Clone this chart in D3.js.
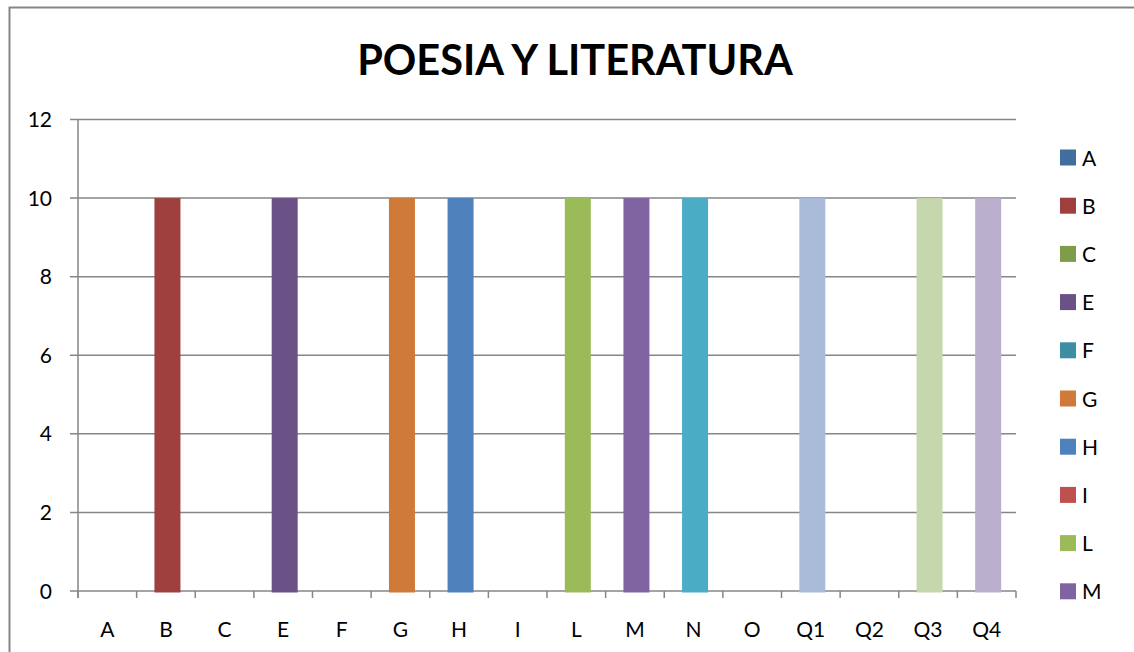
<!DOCTYPE html>
<html>
<head>
<meta charset="utf-8">
<script src="https://cdn.jsdelivr.net/npm/d3@7"></script>
<style>
  body { margin: 0; background: #fff; }
  svg text { font-family: Lato, "Open Sans", sans-serif; fill: #000; }
</style>
</head>
<body>
<svg id="chart" width="1134" height="652"></svg>
<script>
// data
var categories = ["A", "B", "C", "E", "F", "G", "H", "I", "L", "M", "N", "O", "Q1", "Q2", "Q3", "Q4"];
var values = [0, 10, 0, 10, 0, 10, 10, 0, 10, 10, 10, 0, 10, 0, 10, 10];
var colors = ["#416DA1", "#9E413E", "#809B4A", "#6A5186", "#3D8DA5", "#CF7A38",
              "#4F81BD", "#C0504D", "#9BBB59", "#8064A2", "#4BACC6", "#F79646",
              "#A9BBD9", "#DBA9A8", "#C7D7AD", "#BAAFCC"];
var yTicks = [0, 2, 4, 6, 8, 10, 12];
var legendCount = 10; // only the first ten names fit in the legend
var title = "POESIA Y LITERATURA";

drawChart();

function drawChart() {
  var svg = d3.select("#chart");
  var gridColor = "#868686";

  // outer chart border (right and bottom edges fall outside the picture)
  svg.append("path")
    .attr("d", "M9.5,652 L9.5,7.5 L1134,7.5")
    .attr("fill", "none").attr("stroke", gridColor).attr("stroke-width", 2);

  var plotLeft = 78, plotRight = 1016, plotTop = 119.5, plotBottom = 591;

  var x = d3.scaleBand().domain(categories).range([plotLeft, plotRight]);
  var y = d3.scaleLinear().domain([0, 12]).range([plotBottom, plotTop]);

  // title
  svg.append("text")
    .attr("x", 575).attr("y", 75)
    .attr("text-anchor", "middle")
    .attr("font-size", 41.5).attr("font-weight", "bold")
    .text(title);

  // horizontal grid lines
  svg.append("g").selectAll("line").data(yTicks).enter().append("line")
    .attr("x1", plotLeft - 8).attr("x2", plotRight)
    .attr("y1", function(d) { return y(d); }).attr("y2", function(d) { return y(d); })
    .attr("stroke", gridColor).attr("stroke-width", 1.5);

  // y axis line
  svg.append("line")
    .attr("x1", plotLeft).attr("x2", plotLeft)
    .attr("y1", plotTop).attr("y2", plotBottom + 7)
    .attr("stroke", gridColor).attr("stroke-width", 1.5);

  // y tick labels
  svg.append("g").selectAll("text").data(yTicks).enter().append("text")
    .attr("x", 52).attr("y", function(d) { return y(d) + 7.5; })
    .attr("text-anchor", "end").attr("font-size", 21)
    .text(function(d) { return d; });

  // bars
  var barW = 26;
  svg.append("g").selectAll("rect").data(categories).enter().append("rect")
    .attr("x", function(d) { return x(d) + x.bandwidth() / 2 - barW / 2 + 1.5; })
    .attr("width", barW)
    .attr("y", function(d, i) { return y(values[i]); })
    .attr("height", function(d, i) { return values[i] > 0 ? y(0) - y(values[i]) + 1.5 : 0; })
    .attr("fill", function(d, i) { return colors[i]; });

  // x axis ticks at category boundaries
  var bounds = categories.map(function(d) { return x(d); }).concat([plotRight]);
  svg.append("g").selectAll("line").data(bounds).enter().append("line")
    .attr("x1", function(d) { return d; }).attr("x2", function(d) { return d; })
    .attr("y1", plotBottom).attr("y2", plotBottom + 7)
    .attr("stroke", gridColor).attr("stroke-width", 1.5);

  // category labels
  svg.append("g").selectAll("text").data(categories).enter().append("text")
    .attr("x", function(d) { return x(d) + x.bandwidth() / 2; })
    .attr("y", 637)
    .attr("text-anchor", "middle").attr("font-size", 21)
    .text(function(d) { return d; });

  // legend
  var legend = svg.append("g").selectAll("g").data(categories.slice(0, legendCount)).enter().append("g")
    .attr("transform", function(d, i) { return "translate(1060," + (149.5 + i * 48.2) + ")"; });
  legend.append("rect")
    .attr("width", 16).attr("height", 16)
    .attr("fill", function(d, i) { return colors[i]; });
  legend.append("text")
    .attr("x", 22).attr("y", 16)
    .attr("font-size", 21)
    .text(function(d) { return d; });
}
</script>
</body>
</html>
